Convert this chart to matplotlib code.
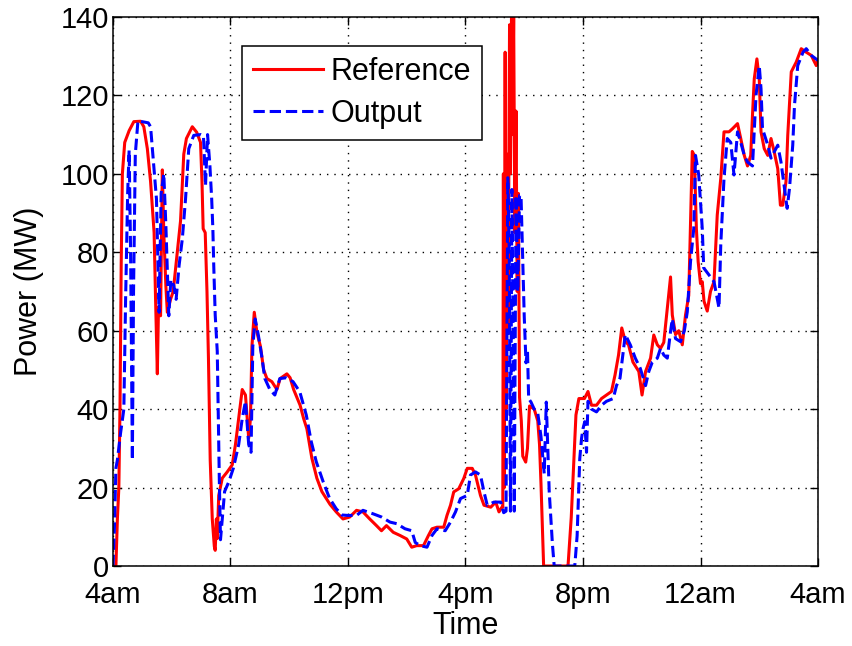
import numpy as np
import matplotlib
matplotlib.use('agg')
import matplotlib.pyplot as plt

# hours after 4am, power in MW
ref_t = [0.00, 0.10, 0.15, 0.20, 0.24, 0.28, 0.32, 0.40, 0.55, 0.71, 0.94, 1.05, 1.17, 1.28,
         1.40, 1.45, 1.51, 1.55, 1.62, 1.68, 1.73, 1.80, 1.85, 1.96, 2.05, 2.19, 2.30, 2.41,
         2.50, 2.70, 2.85, 2.98, 3.03, 3.07, 3.14, 3.20, 3.25, 3.31, 3.38, 3.45, 3.48, 3.52,
         3.55, 3.60, 3.72, 3.89, 4.06, 4.17, 4.28, 4.40, 4.51, 4.62, 4.68, 4.73, 4.81, 4.90,
         5.02, 5.13, 5.24, 5.41, 5.58, 5.69, 5.92, 6.03, 6.15, 6.37, 6.49, 6.60, 6.77, 6.94,
         7.11, 7.39, 7.60, 7.83, 8.06, 8.29, 8.51, 8.74, 8.97, 9.14, 9.31, 9.54, 9.77, 10.00,
         10.17, 10.34, 10.57, 10.74, 10.86, 11.03, 11.26, 11.37, 11.49, 11.60, 11.77, 11.94,
         12.06, 12.23, 12.34, 12.51, 12.63, 12.86, 13.03, 13.14, 13.24, 13.27, 13.29, 13.32,
         13.35, 13.38, 13.42, 13.45, 13.50, 13.53, 13.57, 13.60, 13.64, 13.68, 13.72, 13.76,
         13.80, 13.84, 13.90, 13.95, 14.05, 14.11, 14.18, 14.34, 14.46, 14.52, 14.57, 14.66,
         15.49, 15.60, 15.71, 15.76, 15.86, 16.05, 16.17, 16.29, 16.46, 16.63, 16.80, 16.97,
         17.09, 17.21, 17.32, 17.44, 17.55, 17.70, 17.90, 18.01, 18.13, 18.25, 18.30, 18.41,
         18.53, 18.64, 18.75, 18.87, 18.98, 19.04, 19.15, 19.26, 19.38, 19.49, 19.60, 19.66,
         19.72, 19.79, 19.86, 19.92, 20.00, 20.06, 20.12, 20.23, 20.34, 20.46, 20.57, 20.69,
         20.80, 20.97, 21.09, 21.26, 21.37, 21.49, 21.60, 21.71, 21.77, 21.83, 21.92, 22.00,
         22.06, 22.17, 22.29, 22.40, 22.51, 22.63, 22.72, 22.80, 22.91, 22.97, 23.09, 23.26,
         23.43, 23.60, 23.77, 23.94, 24.00]
ref_p = [0, 0, 12, 20, 41, 77, 100, 108, 111, 113.3, 113.4, 112, 106.4, 98,
         85, 68, 49, 66, 63.8, 101, 85, 71.5, 64.7, 68, 70, 80, 88, 105,
         109, 112, 110.6, 108, 98, 86, 85, 70, 53, 27, 12, 5, 4, 12,
         7, 18, 22.4, 24, 25.8, 31, 37.6, 45, 43.6, 32.6, 37.6, 56, 64.7, 59.6,
         56, 50, 47.8, 47, 45, 47.8, 49, 48, 45, 41, 37.6, 35, 27.5, 22.4,
         19, 15.7, 13.8, 12, 12.5, 14.2, 13.8, 12, 10.3, 9, 10.3, 8.6, 7.8, 6.9,
         4.8, 5.2, 5.2, 7.8, 9.5, 9.9, 9.9, 12.9, 15.5, 18.9, 19.7, 22.3,
         24.9, 24.9, 23.2, 18, 15.5, 15, 16.3, 13.8, 15, 15, 100, 20,
         131, 40, 105, 60, 138, 100, 145, 110, 140, 85, 116, 70,
         95, 43, 37, 28, 26.5, 30, 40.8, 40, 37, 31, 21, 0,
         0, 12.4, 30, 38.5, 42.7, 42.7, 44.5, 41, 41, 42.7, 43.6, 44.5,
         48.7, 53.8, 60.7, 57.3, 56.4, 52, 49.6, 43.6, 49.6, 52, 53, 58.9,
         56.4, 55.5, 57, 65.7, 73.7, 64, 59, 60, 56.4, 64, 69, 87,
         105.7, 104.7, 86, 77.6, 72, 72.5, 67.5, 65, 70, 72.5, 89.5, 98.8,
         110.7, 110.7, 111.5, 112.8, 109, 104.7, 102, 104.7, 115, 124.2, 129.3, 124.2,
         110.7, 106.4, 104.7, 109, 105.6, 101.3, 92, 92, 98, 109.8, 126, 128.5,
         131.9, 131, 130.2, 127.6, 129]

out_t = [0.00, 0.05, 0.10, 0.15, 0.26, 0.37, 0.43, 0.50, 0.55, 0.60, 0.66, 0.70, 0.76, 0.85,
         1.20, 1.28, 1.39, 1.48, 1.57, 1.64, 1.73, 1.80, 1.90, 1.97, 2.07, 2.15, 2.25, 2.36,
         2.47, 2.58, 2.75, 2.99, 3.08, 3.15, 3.22, 3.30, 3.36, 3.40, 3.43, 3.48, 3.55, 3.58,
         3.62, 3.66, 3.72, 3.80, 3.95, 4.10, 4.28, 4.40, 4.51, 4.62, 4.70, 4.76, 4.84, 4.95,
         5.06, 5.17, 5.34, 5.51, 5.68, 5.90, 6.13, 6.36, 6.58, 6.75, 6.92, 7.15, 7.37, 7.60,
         7.80, 8.00, 8.29, 8.51, 8.86, 9.14, 9.43, 9.66, 9.94, 10.17, 10.29, 10.46, 10.69,
         10.86, 11.03, 11.31, 11.49, 11.66, 11.83, 12.06, 12.17, 12.34, 12.51, 12.63, 12.74,
         12.97, 13.20, 13.30, 13.38, 13.44, 13.49, 13.53, 13.58, 13.62, 13.66, 13.72, 13.78,
         13.84, 13.89, 13.95, 14.00, 14.06, 14.11, 14.15, 14.23, 14.34, 14.46, 14.57, 14.68,
         14.75, 14.80, 14.85, 14.96, 15.02, 15.72, 15.80, 15.89, 15.95, 16.00, 16.06, 16.12,
         16.17, 16.29, 16.46, 16.63, 16.80, 17.03, 17.14, 17.26, 17.44, 17.61, 17.78, 17.95,
         18.13, 18.24, 18.36, 18.53, 18.64, 18.75, 18.87, 18.98, 19.04, 19.15, 19.32, 19.45,
         19.55, 19.66, 19.77, 19.83, 19.94, 20.06, 20.11, 20.29, 20.46, 20.63, 20.69, 20.80,
         20.91, 21.03, 21.14, 21.26, 21.37, 21.49, 21.60, 21.77, 21.89, 22.00, 22.06, 22.11,
         22.29, 22.40, 22.63, 22.74, 22.86, 22.95, 23.03, 23.14, 23.20, 23.31, 23.49, 23.60,
         23.77, 24.00]
out_p = [0, 10, 25, 27, 34, 40, 68, 95, 106, 80, 27, 70, 105, 113.5,
         113, 112, 102, 93.6, 64.7, 95, 100, 87, 63.8, 73, 71.5, 68, 76.6, 83.4,
         93.6, 106.4, 109.8, 110, 109.7, 97, 110, 102, 93.6, 86, 76.7, 64, 54.7, 40,
         22, 6.7, 12, 19, 21.6, 25, 31, 37.6, 42, 31, 29, 56, 63, 58.8,
         53.7, 47.8, 45, 43.6, 47.8, 48, 47, 44.4, 38.5, 31.7, 26.6, 21.6, 17.3, 14.6,
         13, 12.9, 12.9, 14.2, 13.3, 12.5, 11.2, 10.8, 9.5, 9, 6, 5.2, 4.8,
         7.8, 9.5, 9, 11.2, 13.8, 17.2, 18, 23.2, 24, 23.2, 18.9, 15.5,
         16.3, 16.3, 13.6, 14, 99, 80, 14, 96, 60, 14, 94.5, 70,
         94.5, 94.5, 78, 63.6, 51.8, 55, 42.7, 41.8, 40, 39, 33, 23.6,
         41.8, 30, 19, 5.5, 0, 0, 7.7, 27.4, 32.5, 35, 36.8, 29,
         42, 40, 39.3, 41, 42, 42.7, 46, 47.9, 59, 56.4, 53, 50.4,
         46, 49.6, 52, 53, 55.5, 53.8, 53, 59.8, 63, 58, 57.2, 60,
         64.8, 77.6, 86, 104.7, 99.7, 86, 76, 74.2, 72.5, 65.8, 82, 98.8,
         109, 108, 99.7, 110.7, 108, 104.7, 103, 102, 120, 127.6, 121.7, 111.5,
         107.3, 104, 107.3, 103, 96.3, 91.2, 96.3, 107.3, 117.5, 127.6, 131, 131.9,
         130.2, 128.9]

tick_pos = [0, 4, 8, 12, 16, 20, 24]
tick_lbl = ['4am', '8am', '12pm', '4pm', '8pm', '12am', '4am']

plt.rcParams['font.family'] = ['Liberation Sans', 'DejaVu Sans']

fig = plt.figure(figsize=(8.52, 6.46), dpi=100)
ax = fig.add_axes([0.1326, 0.1238, 0.8275, 0.85])

ax.plot(ref_t, ref_p, color=(1, 0, 0), lw=2.2, label='Reference')
ax.plot(out_t, out_p, color=(0, 0, 1), lw=2.2, ls='--', label='Output')

ax.set_xlim(0, 24)
ax.set_ylim(0, 140)
ax.set_xticks(tick_pos)
ax.set_xticklabels(tick_lbl)
ax.set_yticks(np.arange(0, 141, 20))
ax.tick_params(direction='in', length=6, width=1, top=True, right=True, labelsize=21)
ax.tick_params(axis='x', pad=11)
ax.tick_params(axis='y', pad=3)
ax.grid(True, color='black', lw=1, ls=(0, (1, 4.3)))
for s in ax.spines.values():
    s.set_linewidth(1.1)

ax.set_xlabel('Time', fontsize=22, labelpad=1)
ax.set_ylabel('Power (MW)', fontsize=22, labelpad=12)

leg = ax.legend(loc='upper left', bbox_to_anchor=(0.183, 0.947), fancybox=False,
                edgecolor='black', framealpha=1, handlelength=2.3, borderpad=0.35,
                labelspacing=0.4, handletextpad=0.25, borderaxespad=0, fontsize=22)
leg.get_frame().set_linewidth(1.1)

plt.savefig('out.png', dpi=100)
plt.close()
